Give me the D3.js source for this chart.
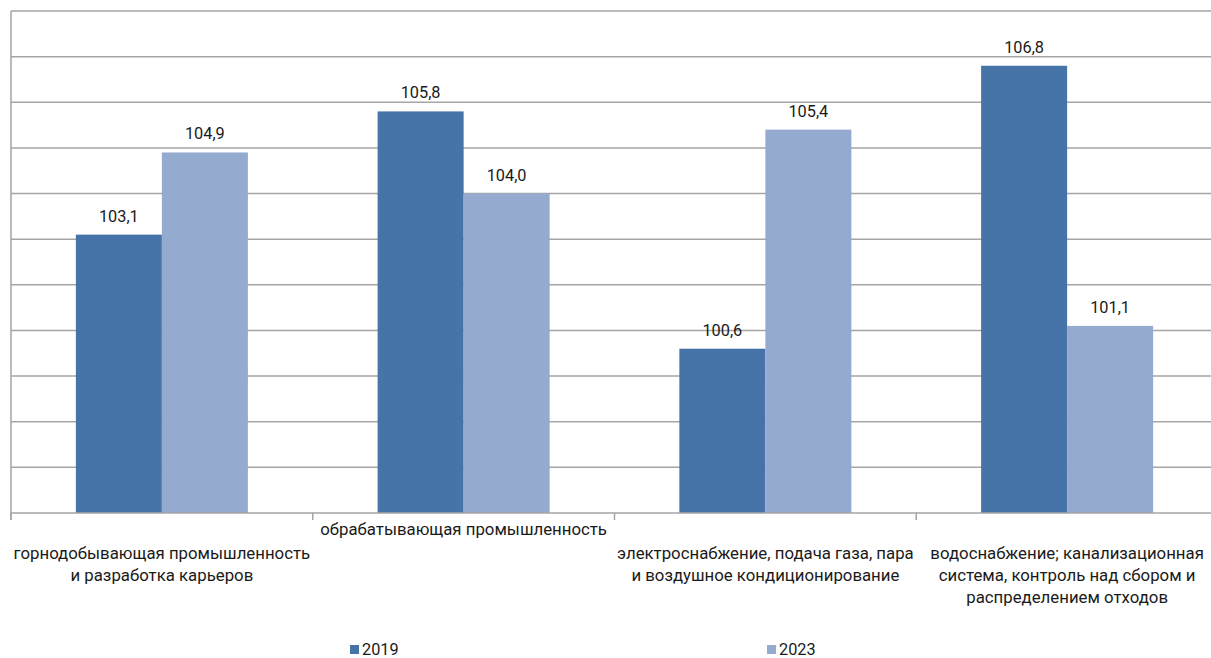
<!DOCTYPE html>
<html><head><meta charset="utf-8">
<script src="https://cdn.jsdelivr.net/npm/d3@7/dist/d3.min.js"></script>
<style>
body{margin:0;background:#fff;}
svg{display:block;font-family:Roboto,"Noto Sans",sans-serif;}
</style></head>
<body>
<svg id="chart" width="1211" height="658"></svg>
<script>
const categories = [
  "горнодобывающая промышленность и разработка карьеров",
  "обрабатывающая промышленность",
  "электроснабжение, подача газа, пара и воздушное кондиционирование",
  "водоснабжение; канализационная система, контроль над сбором и распределением отходов"
];
const categoryLines = [
  ["горнодобывающая промышленность", "и разработка карьеров"],
  ["обрабатывающая промышленность"],
  ["электроснабжение, подача газа, пара", "и воздушное кондиционирование"],
  ["водоснабжение; канализационная", "система, контроль над сбором и", "распределением отходов"]
];
const series = ["2019", "2023"];
const values2019 = [103.1, 105.8, 100.6, 106.8];
const values2023 = [104.9, 104.0, 105.4, 101.1];
const yTicks = [97, 98, 99, 100, 101, 102, 103, 104, 105, 106, 107, 108];
const colors = ["#4673A8", "#95AACF"];

(function () {
const svg = d3.select("#chart");
const mLeft = 11, mRight = 1218, mTop = 11, mBottom = 513;
const fs = 16.3, fsCat = 16.8;

const x = d3.scaleBand().domain(categories).range([mLeft, mRight]).paddingInner(0).paddingOuter(0);
const xs = d3.scaleBand().domain(series).range([0, x.bandwidth()]).paddingInner(0).paddingOuter(0.754);
const y = d3.scaleLinear().domain([97, 108]).range([mBottom, mTop]);

// gridlines
svg.append("g").selectAll("line").data(yTicks.slice(1)).join("line")
  .attr("x1", mLeft).attr("x2", 1211)
  .attr("y1", d => y(d)).attr("y2", d => y(d))
  .attr("stroke", "#A5A5A5").attr("stroke-width", 1.5);

const data = categories.map((c, i) => ({c, vals: [values2019[i], values2023[i]]}));

const g = svg.append("g");
data.forEach((d, i) => {
  d.vals.forEach((v, j) => {
    const bx = x(d.c) + xs(series[j]);
    g.append("rect")
      .attr("x", bx).attr("width", xs.bandwidth())
      .attr("y", y(v)).attr("height", y(97) - y(v))
      .attr("fill", colors[j]);
    g.append("text")
      .attr("x", bx + xs.bandwidth() / 2).attr("y", y(v) - 13)
      .attr("text-anchor", "middle").attr("font-size", fs).attr("fill", "#1a1a1a")
      .text(v.toFixed(1).replace(".", ","));
  });
});

// x axis boundaries
const bounds = d3.range(categories.length + 1).map(i => mLeft + i * x.bandwidth());
svg.append("g").selectAll("line").data(bounds).join("line")
  .attr("x1", d => d).attr("x2", d => d).attr("y1", mBottom).attr("y2", mBottom + 7)
  .attr("stroke", "#A5A5A5").attr("stroke-width", 1.5);
svg.append("line").attr("x1", mLeft).attr("x2", 1211).attr("y1", mBottom).attr("y2", mBottom)
  .attr("stroke", "#A5A5A5").attr("stroke-width", 1.5);
// y axis line
svg.append("line").attr("x1", mLeft).attr("x2", mLeft).attr("y1", mTop).attr("y2", mBottom + 7)
  .attr("stroke", "#A5A5A5").attr("stroke-width", 1.5);

// category labels
const labelStart = [559, 535, 559, 559];
categoryLines.forEach((lines, i) => {
  const t = svg.append("text").attr("text-anchor", "middle").attr("font-size", fsCat).attr("fill", "#1a1a1a");
  lines.forEach((ln, k) => {
    t.append("tspan").attr("x", x(categories[i]) + x.bandwidth() / 2)
      .attr("y", labelStart[i] + k * 22).text(ln);
  });
});

// legend
const legendX = [350, 767];
series.forEach((s, j) => {
  svg.append("rect").attr("x", legendX[j]).attr("y", 645).attr("width", 9).attr("height", 9).attr("fill", colors[j]);
  svg.append("text").attr("x", legendX[j] + 12).attr("y", 655)
    .attr("font-size", fs).attr("fill", "#1a1a1a").text(s);
});
})();
</script>
</body></html>
